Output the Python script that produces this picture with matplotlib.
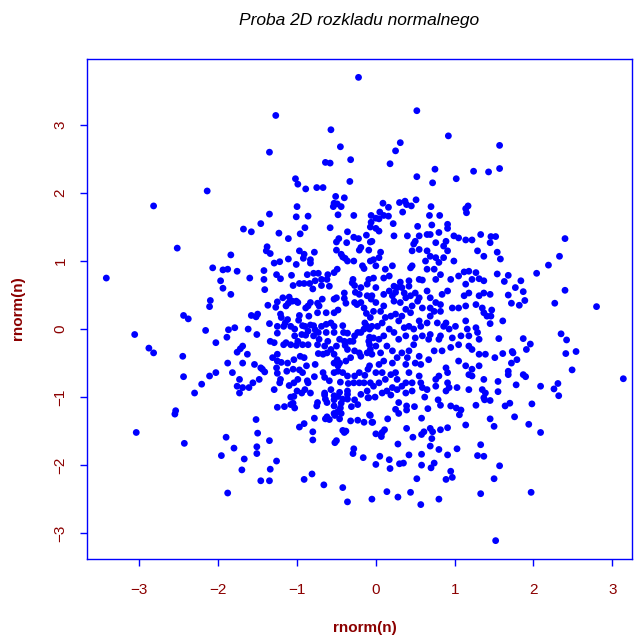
import numpy as np
import matplotlib.pyplot as plt

plt.rcParams['font.family'] = ['Liberation Sans', 'DejaVu Sans']

# points, grouped by region of the plot
pts_upper_left = [(-2.14, 2.03), (-2.82, 1.81)]

pts_upper_mid_left = [
    (-0.22, 3.70), (-1.27, 3.14), (-0.57, 2.93), (-1.35, 2.60), (-0.45, 2.68),
    (-0.64, 2.45), (-0.58, 2.44), (-0.32, 2.49), (-1.02, 2.21), (-0.99, 2.13),
    (-0.89, 2.06), (-0.75, 2.08), (-0.67, 2.08), (-0.33, 2.17), (-0.51, 1.95),
    (-0.40, 1.93), (-0.53, 1.85), (-0.49, 1.84), (-0.54, 1.80), (-0.44, 1.80),
    (-1.00, 1.80), (-1.35, 1.69), (-1.01, 1.65), (-0.86, 1.66), (-0.48, 1.68),
    (-0.28, 1.67), (-0.06, 1.67), (-1.46, 1.55), (-1.68, 1.47), (-0.90, 1.49),
    (-0.58, 1.49), (-0.06, 1.57), (-0.07, 1.50),
]

pts_upper_mid_right = [
    (0.52, 3.21), (0.92, 2.84), (0.31, 2.74), (0.25, 2.62), (1.57, 2.70),
    (0.18, 2.43), (0.75, 2.35), (0.52, 2.24), (0.72, 2.15), (1.02, 2.21),
    (1.24, 2.32), (1.43, 2.31), (1.57, 2.36), (0.09, 1.85), (0.16, 1.79),
    (0.30, 1.86), (0.37, 1.88), (0.39, 1.83), (0.45, 1.81), (0.51, 1.90),
    (0.34, 1.72), (0.70, 1.80), (0.68, 1.67), (0.81, 1.67), (1.17, 1.81),
    (1.14, 1.77), (1.15, 1.71), (0.00, 1.63), (0.05, 1.72), (0.10, 1.67),
    (0.16, 1.66), (0.04, 1.62), (0.22, 1.55), (0.00, 1.48), (0.53, 1.51),
    (0.71, 1.53), (0.91, 1.54), (0.91, 1.48),
]

pts_mid_left = [
    (-2.52, 1.19), (-3.42, 0.75), (-1.84, 1.09), (-2.07, 0.90), (-1.94, 0.87),
    (-1.88, 0.88), (-1.97, 0.71), (-1.94, 0.60), (-1.84, 0.51), (-2.10, 0.42),
    (-2.11, 0.33), (-2.44, 0.20), (-2.38, 0.15), (-3.06, -0.08), (-2.16, -0.02),
    (-1.87, -0.01), (-1.89, -0.12), (-2.03, -0.20), (-2.88, -0.28), (-2.82, -0.35),
    (-2.45, -0.40), (-1.88, -0.50), (-2.03, -0.64), (-2.11, -0.69), (-2.44, -0.70),
    (-2.21, -0.81), (-2.30, -0.94),
]

pts_center_left = [
    (-1.58, 1.43), (-1.23, 1.41), (-1.11, 1.33), (-0.96, 1.40), (-0.36, 1.43),
    (-0.47, 1.33), (-0.50, 1.28), (-0.37, 1.27), (-0.28, 1.35), (-0.22, 1.33),
    (-0.12, 1.38), (-0.07, 1.28), (-1.38, 1.21), (-1.39, 1.15), (-1.34, 1.11),
    (-0.97, 1.15), (-0.91, 1.10), (-0.78, 1.13), (-0.92, 1.04), (-0.83, 1.02),
    (-0.83, 0.97), (-1.11, 1.03), (-1.01, 0.95), (-1.29, 0.97), (-1.22, 0.99),
    (-0.50, 1.16), (-0.42, 1.06), (-0.39, 1.04), (-0.44, 1.10), (-0.28, 1.00),
    (-0.19, 1.20), (-0.21, 1.16), (-0.09, 1.16), (-0.17, 0.93), (-0.15, 0.89),
    (-0.36, 1.00), (-1.76, 0.85), (-1.60, 0.75), (-1.42, 0.86), (-1.26, 0.80),
    (-1.42, 0.73), (-1.41, 0.58), (-1.21, 0.74), (-1.07, 0.79), (-1.05, 0.64),
    (-0.97, 0.67), (-0.91, 0.67), (-0.87, 0.80), (-0.79, 0.82), (-0.73, 0.82),
    (-0.61, 0.80), (-0.62, 0.73), (-0.69, 0.73), (-0.77, 0.71), (-0.84, 0.67),
    (-0.80, 0.59), (-0.69, 0.64), (-0.59, 0.63), (-0.53, 0.83), (-0.49, 0.88),
    (-0.29, 0.73), (-0.30, 0.68), (-0.27, 0.64), (-0.19, 0.61), (-0.11, 0.66),
    (-0.26, 0.54), (-0.21, 0.51), (-1.18, 0.46), (-1.10, 0.47), (-1.11, 0.38),
    (-1.06, 0.41), (-1.14, 0.34), (-1.25, 0.40), (-1.27, 0.32), (-1.37, 0.35),
    (-1.01, 0.41), (-0.99, 0.39), (-0.83, 0.39), (-0.86, 0.34), (-0.89, 0.31),
    (-0.74, 0.38), (-0.68, 0.44), (-0.72, 0.34), (-0.53, 0.44), (-0.50, 0.46),
    (-0.40, 0.53), (-0.40, 0.45), (-0.38, 0.38), (-0.27, 0.39), (-0.24, 0.36),
    (-0.19, 0.39), (-0.11, 0.49), (-0.06, 0.44), (-0.48, 0.28), (-0.53, 0.24),
    (-0.63, 0.24), (-0.74, 0.24), (-0.85, 0.19), (-0.97, 0.20), (-0.98, 0.13),
    (-1.12, 0.14), (-1.15, 0.09), (-1.21, 0.22), (-1.20, 0.17), (-1.17, 0.04),
    (-1.25, 0.04), (-1.35, 0.08), (-1.50, 0.22), (-1.58, 0.20), (-1.52, 0.18),
    (-1.08, 0.04), (-1.03, 0.00), (-0.93, 0.05), (-0.90, 0.04), (-0.83, 0.06),
    (-0.79, 0.05), (-0.77, -0.01), (-0.86, -0.03), (-0.69, 0.04), (-0.63, 0.07),
    (-0.57, 0.09), (-0.53, 0.04), (-0.42, 0.05), (-0.41, -0.05), (-0.36, -0.06),
    (-0.53, -0.05), (-0.63, -0.05), (-0.73, -0.05), (-0.72, -0.15), (-0.74, -0.23),
    (-0.79, -0.10), (-0.89, -0.09), (-0.94, -0.08), (-1.03, -0.10), (-0.99, -0.18),
    (-0.93, -0.23), (-0.86, -0.23), (-1.01, -0.24), (-1.14, -0.20), (-1.17, -0.23),
    (-1.25, -0.06), (-1.29, -0.20), (-1.34, -0.18), (-1.08, -0.23), (-0.15, 0.31),
    (-0.12, 0.23), (-0.14, 0.09), (-0.12, 0.05), (-0.08, 0.00), (-0.19, -0.05),
    (-0.15, 0.00), (-0.23, -0.05), (-0.27, -0.10), (-0.29, -0.18), (-0.33, -0.18),
    (-0.40, -0.18), (-0.46, -0.15), (-0.61, -0.18), (-0.65, -0.25), (-0.57, -0.30),
    (-0.50, -0.25), (-0.39, -0.24), (-0.36, -0.30), (-0.27, -0.32), (-0.21, -0.35),
    (-0.19, -0.40), (-0.11, -0.35), (-0.08, -0.23), (-0.08, -0.12), (-1.62, 0.00),
    (-1.51, -0.08), (-1.79, 0.02), (-1.69, -0.25), (-1.72, -0.29), (-1.76, -0.34),
    (-1.63, -0.37), (-1.25, -0.37), (-1.31, -0.42), (-1.25, -0.47), (-1.20, -0.49),
    (-1.12, -0.50), (-1.04, -0.45), (-0.96, -0.40), (-0.91, -0.42), (-0.73, -0.36),
    (-0.67, -0.37), (-0.62, -0.35), (-0.53, -0.37), (-0.49, -0.45), (-0.46, -0.50),
    (-0.53, -0.50), (-0.48, -0.54), (-0.38, -0.47), (-0.32, -0.42), (-0.77, -0.52),
    (-0.88, -0.54), (-0.97, -0.60), (-1.05, -0.59), (-1.13, -0.62), (-1.26, -0.57),
    (-1.25, -0.65), (-1.44, -0.59), (-1.46, -0.57), (-1.54, -0.52), (-1.41, -0.63),
    (-1.69, -0.50), (-1.82, -0.64), (-1.48, -0.74), (-1.56, -0.79), (-1.73, -0.74),
    (-1.76, -0.84), (-1.61, -0.86), (-1.69, -0.86), (-1.29, -0.89), (-1.21, -0.74),
    (-1.22, -0.79), (-1.10, -0.83), (-1.04, -0.79), (-0.99, -0.74), (-0.93, -0.64),
    (-0.86, -0.79), (-0.87, -0.76), (-0.78, -0.70), (-0.67, -0.64), (-0.65, -0.71),
    (-0.59, -0.76), (-0.53, -0.64), (-0.48, -0.62), (-0.42, -0.64), (-0.36, -0.69),
    (-0.27, -0.69), (-0.21, -0.64), (-0.14, -0.68), (-0.10, -0.59), (-0.08, -0.54),
    (-0.15, -0.79), (-0.21, -0.79), (-0.28, -0.79), (-0.35, -0.80), (-0.45, -0.78),
    (-0.57, -0.89), (-0.65, -0.94), (-0.83, -0.94), (-0.90, -0.89), (-0.94, -0.94),
    (-1.00, -0.91), (-1.04, -0.99), (-0.46, -0.93), (-0.36, -0.91), (-0.36, -0.96),
    (-0.19, -0.96), (-0.11, -0.91), (-0.07, -0.79), (-1.73, -0.94),
]

pts_center_right = [
    (0.04, 1.44), (-0.05, 1.29), (0.23, 1.37), (0.40, 1.37), (0.55, 1.37),
    (0.65, 1.39), (0.69, 1.39), (0.80, 1.42), (0.99, 1.37), (1.05, 1.34),
    (1.14, 1.31), (1.22, 1.31), (1.33, 1.39), (0.89, 1.29), (0.76, 1.27),
    (0.86, 1.22), (0.50, 1.29), (0.48, 1.25), (0.55, 1.17), (0.46, 1.15),
    (0.06, 1.13), (0.04, 1.05), (-0.03, 1.02), (-0.07, 1.00), (0.00, 0.93),
    (0.12, 0.88), (0.21, 0.93), (0.17, 0.78), (0.10, 0.75), (-0.03, 0.75),
    (-0.09, 0.73), (0.65, 1.15), (0.69, 1.07), (0.63, 1.00), (0.76, 1.05),
    (0.91, 1.15), (0.86, 1.05), (0.80, 0.98), (0.99, 1.00), (1.29, 1.15),
    (1.37, 1.07), (1.12, 0.84), (1.18, 0.85), (1.27, 0.83), (1.31, 0.74),
    (1.37, 0.71), (0.46, 0.93), (0.44, 0.90), (0.65, 0.88), (0.74, 0.88),
    (0.82, 0.80), (0.76, 0.73), (0.55, 0.73), (0.59, 0.72), (0.42, 0.71),
    (0.31, 0.69), (0.23, 0.63), (0.27, 0.61), (0.33, 0.61), (0.42, 0.63),
    (0.36, 0.53), (0.25, 0.54), (0.17, 0.56), (0.10, 0.51), (0.00, 0.61),
    (-0.05, 0.49), (0.00, 0.39), (0.10, 0.34), (0.21, 0.49), (0.23, 0.41),
    (0.31, 0.39), (0.38, 0.46), (0.44, 0.49), (0.50, 0.53), (0.55, 0.46),
    (0.65, 0.56), (0.69, 0.46), (0.76, 0.39), (0.84, 0.51), (0.91, 0.56),
    (0.95, 0.73), (1.05, 0.78), (1.14, 0.66), (1.22, 0.73), (1.18, 0.53),
    (1.12, 0.49), (1.31, 0.49), (1.37, 0.53), (1.05, 0.31), (1.14, 0.34),
    (1.27, 0.36), (1.35, 0.31), (1.41, 0.19), (1.37, 0.24), (0.97, 0.31),
    (0.82, 0.36), (0.82, 0.26), (0.74, 0.26), (0.69, 0.31), (0.59, 0.31),
    (0.53, 0.41), (0.46, 0.34), (0.44, 0.24), (0.38, 0.29), (0.33, 0.19),
    (0.29, 0.12), (0.25, 0.22), (0.19, 0.19), (0.12, 0.17), (0.06, 0.26),
    (-0.03, 0.26), (-0.07, 0.17), (-0.05, 0.04), (0.02, 0.04), (0.08, 0.09),
    (0.17, 0.00), (0.23, -0.05), (0.10, -0.10), (0.04, -0.15), (-0.03, -0.13),
    (-0.09, -0.18), (-0.07, -0.30), (0.00, -0.25), (-0.05, -0.37), (0.06, -0.35),
    (0.14, -0.25), (0.21, -0.32), (0.29, -0.15), (0.38, -0.10), (0.36, 0.02),
    (0.42, 0.04), (0.48, 0.00), (0.57, 0.04), (0.55, 0.12), (0.65, 0.09),
    (0.69, 0.19), (0.78, 0.09), (0.89, 0.09), (0.86, 0.04), (0.93, 0.00),
    (1.01, 0.04), (1.14, 0.12), (1.16, 0.00), (1.27, 0.02), (1.29, -0.05),
    (1.31, -0.15), (1.18, -0.10), (1.08, -0.10), (0.97, -0.13), (0.80, -0.15),
    (0.82, -0.10), (0.69, -0.08), (0.67, -0.15), (0.59, -0.10), (0.50, -0.13),
    (0.48, -0.23), (0.42, -0.32), (0.33, -0.35), (0.27, -0.42), (0.21, -0.50),
    (0.10, -0.47), (0.04, -0.52), (0.00, -0.64), (0.08, -0.64), (-0.03, -0.84),
    (0.04, -0.79), (0.12, -0.74), (0.19, -0.67), (0.25, -0.64), (0.27, -0.74),
    (0.21, -0.86), (0.14, -0.91), (0.08, -0.94), (0.27, -0.89), (0.33, -0.84),
    (0.38, -0.79), (0.42, -0.64), (0.38, -0.52), (0.40, -0.42), (0.55, -0.40),
    (0.50, -0.50), (0.57, -0.52), (0.67, -0.45), (0.74, -0.32), (0.84, -0.32),
    (0.95, -0.27), (1.05, -0.23), (1.18, -0.25), (1.22, -0.30), (1.31, -0.37),
    (1.39, -0.37), (1.05, -0.47), (1.14, -0.54), (1.22, -0.59), (1.31, -0.54),
    (1.18, -0.67), (1.22, -0.69), (1.37, -0.74), (0.89, -0.57), (0.91, -0.64),
    (0.80, -0.69), (0.76, -0.74), (0.91, -0.79), (0.93, -0.86), (0.89, -0.91),
    (1.03, -0.86), (1.18, -0.89), (1.35, -0.89), (1.39, -0.94), (0.76, -0.84),
    (0.65, -0.89), (0.59, -0.86), (0.57, -0.79), (0.55, -0.69), (0.46, -0.79),
    (0.46, -0.91), (0.38, -0.94),
]

pts_mid_right = [
    (1.52, 1.36), (1.46, 1.36), (1.45, 1.27), (2.40, 1.33), (1.54, 1.13),
    (1.58, 1.03), (2.33, 1.07), (2.19, 0.94), (2.04, 0.82), (1.54, 0.81),
    (1.68, 0.79), (1.63, 0.70), (1.84, 0.71), (1.77, 0.61), (1.87, 0.55),
    (2.40, 0.57), (1.45, 0.51), (1.68, 0.50), (1.72, 0.38), (1.82, 0.35),
    (1.89, 0.42), (2.27, 0.38), (2.80, 0.33), (1.47, 0.28), (1.46, 0.19),
    (1.45, 0.08), (1.61, 0.12), (2.35, -0.07), (2.42, -0.16), (1.56, -0.14),
    (1.87, -0.14), (1.96, -0.22), (1.91, -0.30), (2.54, -0.33), (2.41, -0.36),
    (1.61, -0.36), (1.51, -0.42), (1.73, -0.33), (1.74, -0.35), (1.79, -0.45),
    (1.72, -0.50), (2.49, -0.60), (1.68, -0.62), (1.68, -0.67), (1.87, -0.67),
    (1.90, -0.70), (3.14, -0.73), (1.55, -0.77), (1.78, -0.82), (2.09, -0.84),
    (2.31, -0.80), (2.26, -0.88), (1.55, -0.92), (2.32, -0.98),
]

pts_lower_left = [
    (-2.54, -1.20), (-2.55, -1.25), (-3.04, -1.52), (-2.43, -1.68), (-1.90, -1.59),
    (-1.96, -1.86), (-1.88, -2.41),
]

pts_lower_mid_left = [
    (-1.08, -1.00), (-1.25, -1.15), (-1.16, -1.14), (-1.08, -1.11), (-1.05, -1.09),
    (-1.03, -1.16), (-0.74, -1.08), (-0.75, -1.13), (-0.65, -0.97), (-0.64, -1.03),
    (-0.62, -1.08), (-0.53, -0.98), (-0.53, -1.04), (-0.53, -1.13), (-0.48, -0.99),
    (-0.42, -1.03), (-0.44, -1.09), (-0.45, -1.16), (-0.48, -1.21), (-0.53, -1.24),
    (-0.44, -1.24), (-0.46, -1.32), (-0.62, -1.29), (-0.64, -1.32), (-0.59, -1.33),
    (-0.52, -1.27), (-0.36, -1.03), (-0.27, -1.04), (-0.31, -1.14), (-0.23, -1.11),
    (-0.10, -1.01), (-0.08, -1.26), (-0.15, -1.37), (-0.23, -1.34), (-0.32, -1.35),
    (-0.05, -1.37), (-0.78, -1.31), (-0.91, -1.39), (-0.97, -1.44), (-0.80, -1.51),
    (-0.80, -1.63), (-0.42, -1.49), (-0.38, -1.50), (-0.40, -1.52), (-0.50, -1.64),
    (-0.52, -1.67), (-0.28, -1.76), (-0.29, -1.83), (-0.16, -1.89), (-1.52, -1.33),
    (-1.50, -1.53), (-1.51, -1.73), (-1.51, -1.83), (-1.35, -1.64), (-1.80, -1.75),
    (-1.67, -1.91), (-1.70, -2.07), (-1.26, -1.94), (-1.34, -2.06), (-1.46, -2.23),
    (-1.35, -2.23), (-0.91, -2.21), (-0.81, -2.13), (-0.66, -2.29), (-0.42, -2.33),
    (-0.36, -2.54), (-0.05, -2.50),
]

pts_lower_mid_right = [
    (-0.09, -1.01), (-0.01, -1.00), (0.19, -0.97), (0.62, -1.00), (0.79, -1.04),
    (0.82, -1.12), (0.95, -1.13), (1.02, -1.16), (1.08, -1.19), (1.06, -1.26),
    (0.29, -1.08), (0.25, -1.18), (0.29, -1.24), (0.39, -1.13), (0.39, -1.19),
    (0.49, -1.14), (0.66, -1.17), (-0.07, -1.27), (-0.04, -1.37), (0.15, -1.32),
    (0.58, -1.31), (1.27, -1.12), (1.37, -1.01), (1.38, -1.04), (1.14, -1.41),
    (0.00, -1.54), (0.08, -1.52), (0.11, -1.48), (0.07, -1.58), (0.39, -1.46),
    (0.47, -1.59), (0.58, -1.55), (0.61, -1.51), (0.69, -1.46), (0.72, -1.51),
    (0.71, -1.61), (0.82, -1.48), (0.91, -1.45), (0.28, -1.69), (0.69, -1.72),
    (0.80, -1.77), (1.03, -1.76), (1.33, -1.70), (1.29, -1.86), (1.37, -1.87),
    (0.05, -1.87), (0.00, -1.99), (0.17, -1.92), (0.18, -2.05), (0.30, -1.98),
    (0.35, -1.97), (0.42, -1.85), (0.58, -1.84), (0.58, -2.00), (0.70, -2.04),
    (0.74, -1.97), (0.91, -1.85), (0.95, -2.09), (0.89, -2.21), (0.97, -2.18),
    (0.52, -2.20), (1.57, -2.01), (1.50, -2.20), (0.14, -2.39), (0.28, -2.47),
    (0.44, -2.40), (0.57, -2.58), (0.80, -2.50), (1.33, -2.42), (1.52, -3.11),
]

pts_lower_right = [
    (1.98, -1.10), (1.64, -1.13), (1.70, -1.09), (1.76, -1.29), (1.45, -1.32),
    (1.45, -1.05), (1.50, -1.43), (1.94, -1.40), (2.09, -1.52), (1.97, -2.40),
]

x_ticks = [-3, -2, -1, 0, 1, 2, 3]
y_ticks = [-3, -2, -1, 0, 1, 2, 3]

groups = [pts_upper_left, pts_upper_mid_left, pts_upper_mid_right, pts_mid_left,
          pts_center_left, pts_center_right, pts_mid_right, pts_lower_left,
          pts_lower_mid_left, pts_lower_mid_right, pts_lower_right]
pts = np.array([p for g in groups for p in g])

W, H = 635, 637
fig = plt.figure(figsize=(W / 100, H / 100), dpi=100)
ax = fig.add_axes([87 / W, 1 - 559 / H, (632 - 87) / W, (559 - 59) / H])

ax.scatter(pts[:, 0], pts[:, 1], s=24, color='blue', edgecolors='none')

ax.set_xlim(-3.665, 3.25)
ax.set_ylim(-3.38, 3.97)
ax.set_xticks(x_ticks)
ax.set_yticks(y_ticks)
for sp in ax.spines.values():
    sp.set_color('blue')
    sp.set_linewidth(1)
ax.tick_params(axis='both', colors='blue', labelcolor='darkred', length=5,
               width=1, direction='out', labelsize=11)
ax.tick_params(axis='x', pad=12)
ax.tick_params(axis='y', pad=9)
for lab in ax.get_yticklabels():
    lab.set_rotation(90)
    lab.set_va('center')

fig.text(359.5 / W, 1 - 20 / H, 'Proba 2D rozkladu normalnego', style='italic',
         ha='center', va='center', fontsize=12.5)
fig.text(365 / W, 1 - 628 / H, 'rnorm(n)', fontweight='bold', color='darkred',
         ha='center', va='center', fontsize=11)
fig.text(18 / W, 1 - 308 / H, 'rnorm(n)', fontweight='bold', color='darkred',
         ha='center', va='center', fontsize=11, rotation=90)

fig.savefig('out.png', dpi=100)
